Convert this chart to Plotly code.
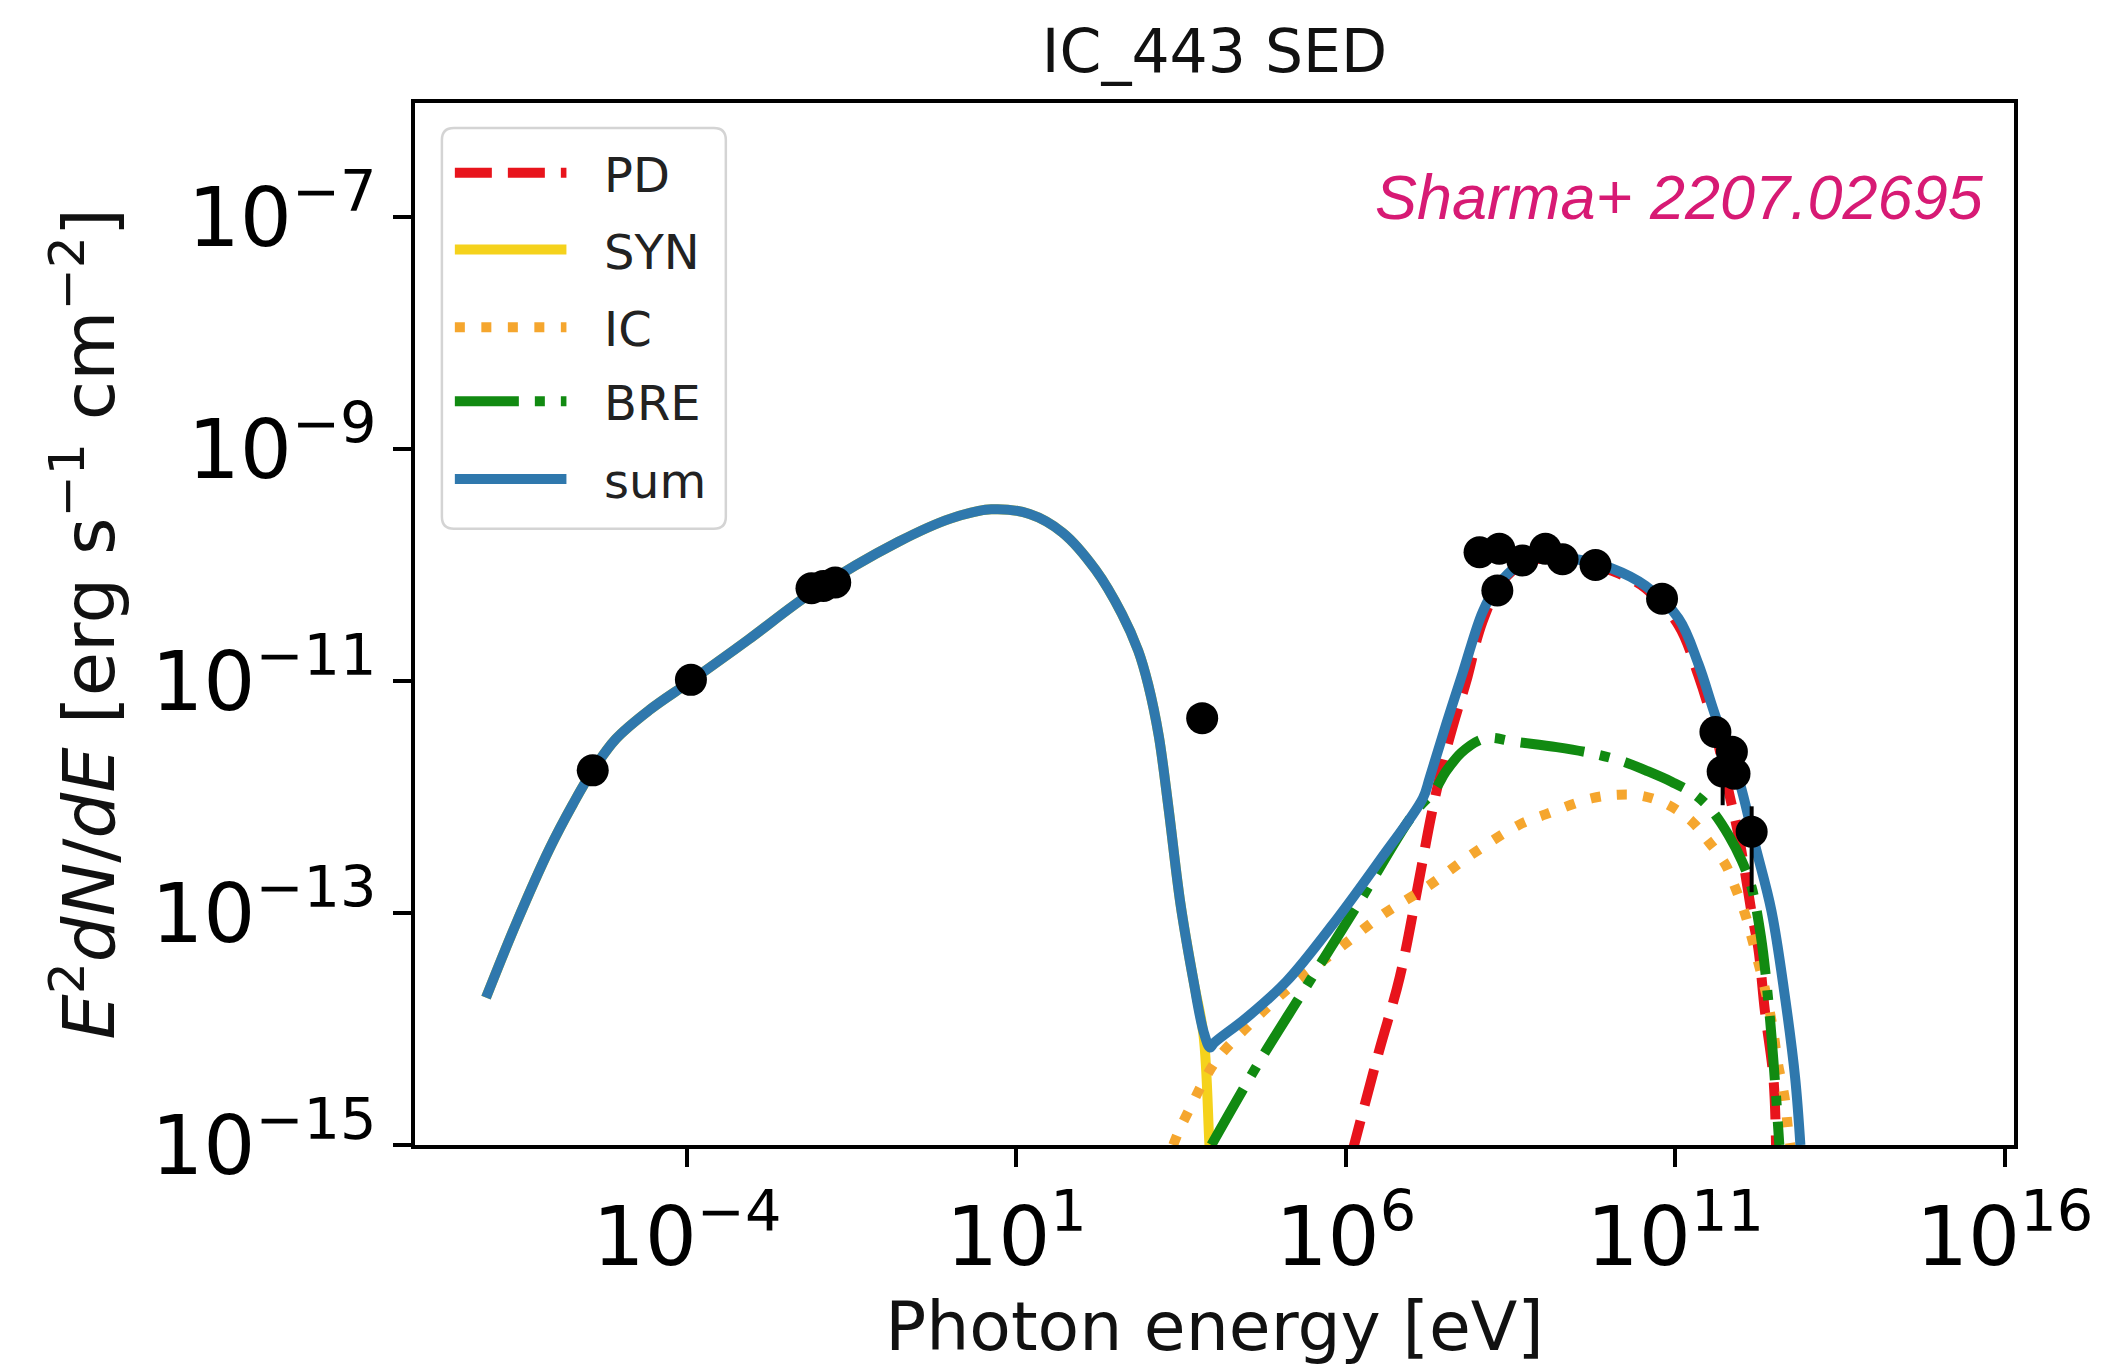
import numpy as np
import plotly.graph_objects as go

# ---------------- data ----------------
# all curves: log10(E / eV)  vs  log10(E^2 dN/dE / erg s^-1 cm^-2)
pd_logE = [6.08, 6.5, 6.82, 7.1, 7.3, 7.5, 7.67, 7.83, 8.0, 8.1, 8.3, 8.6, 9.0, 9.5,
           10.04, 10.55, 11.05, 11.35, 11.6, 11.83, 11.95, 12.06, 12.16, 12.26, 12.36, 12.49, 12.53]
pd_logF = [-15.1, -14.2, -13.55, -12.75, -12.15, -11.65, -11.3, -11.0, -10.62, -10.45, -10.2, -10.02, -9.94, -9.96,
           -10.05, -10.2, -10.52, -10.95, -11.42, -12.0, -12.3, -12.65, -13.0, -13.3, -13.84, -14.42, -15.0]

syn_logE = [-7.05, -6.6, -6.09, -5.73, -5.43, -5.08, -4.57, -3.94, -3.06, -2.11, -0.79, 0.0, 0.62, 1.2,
            1.7, 2.2, 2.6, 2.85, 3.0, 3.16, 3.31, 3.49, 3.69, 3.84, 3.93, 3.97]
syn_logF = [-13.73, -13.1, -12.45, -12.06, -11.77, -11.5, -11.25, -11.0, -10.64, -10.24, -9.80, -9.6, -9.52, -9.56,
            -9.72, -10.04, -10.42, -10.74, -11.03, -11.47, -12.1, -12.92, -13.59, -14.05, -15.0, -15.4]

ic_logE = [3.38, 3.49, 3.69, 3.87, 4.09, 4.65, 5.25, 5.91, 6.57, 7.22, 7.9, 8.63, 9.03, 9.74, 10.14, 10.5,
           10.90, 11.25, 11.50, 11.76, 11.91, 12.06, 12.16, 12.28, 12.38, 12.48, 12.56, 12.66, 12.71, 12.76]
ic_logF = [-15.0, -14.85, -14.62, -14.42, -14.23, -13.90, -13.59, -13.30, -13.01, -12.78, -12.5, -12.24, -12.15,
           -12.01, -11.98, -11.99, -12.07, -12.21, -12.38, -12.58, -12.78, -13.01, -13.21, -13.47, -13.70, -13.99,
           -14.30, -14.59, -14.85, -15.05]

bre_logE = [3.96, 4.70, 5.36, 6.21, 7.02, 7.35, 7.52, 7.75, 8.03, 8.2, 8.53, 9.2, 9.79, 10.24, 10.55, 10.95,
            11.3, 11.56, 11.81, 12.01, 12.16, 12.3, 12.42, 12.52, 12.58]
bre_logF = [-15.0, -14.27, -13.67, -12.90, -12.15, -11.94, -11.78, -11.62, -11.51, -11.49, -11.52, -11.57, -11.63,
            -11.70, -11.77, -11.87, -11.98, -12.12, -12.33, -12.55, -12.78, -13.2, -13.8, -14.5, -15.0]

sum_logE = [-7.05, -6.6, -6.09, -5.73, -5.43, -5.08, -4.57, -3.94, -3.06, -2.11, -0.79, 0.0, 0.62, 1.2,
            1.7, 2.2, 2.6, 2.85, 3.0, 3.16, 3.31, 3.49, 3.69, 3.84, 3.94, 4.0, 4.5, 5.10, 5.8, 6.51,
            7.17, 7.27, 7.52, 7.78, 8.08, 8.3, 8.6, 9.0, 9.5, 10.04, 10.55, 11.05, 11.35, 11.61,
            11.96, 12.21, 12.46, 12.66, 12.82, 12.9]
sum_logF = [-13.73, -13.1, -12.45, -12.06, -11.77, -11.5, -11.25, -11.0, -10.64, -10.24, -9.80, -9.6, -9.52,
            -9.56, -9.72, -10.04, -10.42, -10.74, -11.03, -11.47, -12.1, -12.92, -13.59, -14.02, -14.16, -14.12,
            -13.90, -13.59, -13.1, -12.55, -12.01, -11.84, -11.38, -10.92, -10.40, -10.18, -10.01, -9.93,
            -9.95, -10.03, -10.18, -10.46, -10.85, -11.3, -11.84, -12.41, -12.98, -13.70, -14.42, -15.0]

# measured points
pts_logE = [-5.43, -3.94, -2.11, -1.93, -1.75, 3.82, 8.03, 8.30, 8.33, 8.68, 9.03, 9.29, 9.79, 10.80,
            11.61, 11.72, 11.86, 11.90, 12.16]
pts_logF = [-11.77, -10.99, -10.20, -10.18, -10.15, -11.32, -9.89, -10.22, -9.86, -9.96, -9.86, -9.95, -10.00,
            -10.29, -11.44, -11.78, -11.61, -11.80, -12.30]
pts_err_hi = [0, 0, 0, 0, 0, 0, 0, 0, 0, 0, 0, 0, 0, 0, 0, 8.1e-13, 0, 0, 3.3e-13]
pts_err_lo = [0, 0, 0, 0, 0, 0, 0, 0, 0, 0, 0, 0, 0, 0, 0, 8.1e-13, 0, 0, 3.5e-13]

x_tick_exp = [-4, 1, 6, 11, 16]
y_tick_exp = [-15, -13, -11, -9, -7]

names = ["PD", "SYN", "IC", "BRE", "sum"]
colors = ["#e8141c", "#f5d21c", "#f5a62e", "#118a11", "#2f78ad"]
dashes = ["37px,16px", "solid", "10px,16.5px", "64px,16px,10px,16px", "solid"]
curves = [(pd_logE, pd_logF), (syn_logE, syn_logF), (ic_logE, ic_logF),
          (bre_logE, bre_logF), (sum_logE, sum_logF)]

FONT = "DejaVu Sans"
LW = 10

fig = go.Figure()
for (lx, ly), nm, col, dsh in zip(curves, names, colors, dashes):
    fig.add_trace(go.Scatter(
        x=np.power(10.0, lx), y=np.power(10.0, ly), mode="lines", name=nm,
        line=dict(color=col, width=LW, dash=dsh, shape="spline", smoothing=1.0),
        showlegend=False, hoverinfo="skip"))

fig.add_trace(go.Scatter(
    x=np.power(10.0, pts_logE), y=np.power(10.0, pts_logF), mode="markers", name="data",
    marker=dict(color="black", size=32, line=dict(width=0)),
    error_y=dict(type="data", array=pts_err_hi, arrayminus=pts_err_lo, symmetric=False,
                 color="black", thickness=4, width=0),
    showlegend=False))

# ---------------- legend drawn as a box ----------------
PL, PR, PT, PB = 415, 2020, 103, 1148   # plot area in pixels
W, H = 2105, 1366


def px(xp):
    return (xp - PL) / (PR - PL)


def py(yp):
    return (PB - yp) / (PB - PT)


bx0, bx1, by0, by1 = px(442), px(727), py(530), py(128)
rx, ry = 12 / (PR - PL), 12 / (PB - PT)
path = (f"M {bx0+rx},{by1} L {bx1-rx},{by1} Q {bx1},{by1} {bx1},{by1-ry} "
        f"L {bx1},{by0+ry} Q {bx1},{by0} {bx1-rx},{by0} L {bx0+rx},{by0} "
        f"Q {bx0},{by0} {bx0},{by0+ry} L {bx0},{by1-ry} Q {bx0},{by1} {bx0+rx},{by1} Z")
shapes = [dict(type="path", path=path, xref="paper", yref="paper",
               fillcolor="rgba(255,255,255,0.8)", line=dict(color="#d4d4d4", width=2.5),
               layer="above")]
annotations = []
row_y = [173, 250, 328, 402, 480]
for ry_, nm, col, dsh in zip(row_y, names, colors, dashes):
    shapes.append(dict(type="line", xref="paper", yref="paper",
                       x0=px(455), x1=px(567), y0=py(ry_), y1=py(ry_),
                       line=dict(color=col, width=LW, dash=dsh), layer="above"))
    annotations.append(dict(text=nm, xref="paper", yref="paper", x=px(603), y=py(ry_ + 2),
                            xanchor="left", yanchor="middle", showarrow=False,
                            font=dict(family=FONT, size=48, color="#222222")))

annotations.append(dict(text="<i>Sharma+ 2207.02695</i>", xref="paper", yref="paper",
                        x=px(1992), y=py(197), xanchor="right", yanchor="middle", showarrow=False,
                        font=dict(family="Liberation Sans", size=63, color="#d71a74")))

axis_common = dict(type="log", showline=True, mirror=True, linecolor="black", linewidth=4,
                   ticks="outside", ticklen=18, tickwidth=3.5, tickcolor="black",
                   showgrid=False, zeroline=False,
                   tickfont=dict(family=FONT, size=82, color="black"))

fig.update_layout(
    width=W, height=H,
    margin=dict(l=PL, r=W - PR, t=PT, b=H - PB, pad=0),
    paper_bgcolor="white", plot_bgcolor="white",
    title=dict(text="IC_443 SED", x=0.5, xref="paper", xanchor="center",
               y=1 - 51 / H, yref="container", yanchor="middle",
               font=dict(family=FONT, size=60, color="#111111")),
    xaxis=dict(axis_common, range=[-8.128, 16.142],
               tickvals=[10.0 ** e for e in x_tick_exp],
               ticktext=[f"10<sup>{str(e).replace('-', '−')}</sup>" for e in x_tick_exp],
               title=dict(text="Photon energy [eV]", standoff=22,
                          font=dict(family=FONT, size=68, color="#111111"))),
    yaxis=dict(axis_common, range=[-15.0, -6.017],
               tickvals=[10.0 ** e for e in y_tick_exp],
               ticktext=[f"10<sup>{str(e).replace('-', '−')}</sup>" for e in y_tick_exp],
               title=dict(text="<i>E</i><sup>2</sup><i>dN</i>/<i>dE</i> [erg s<sup>−1</sup> cm<sup>−2</sup>]",
                          standoff=14, font=dict(family=FONT, size=72, color="#111111"))),
    shapes=shapes, annotations=annotations, showlegend=False,
)

fig.write_html("out.html")
